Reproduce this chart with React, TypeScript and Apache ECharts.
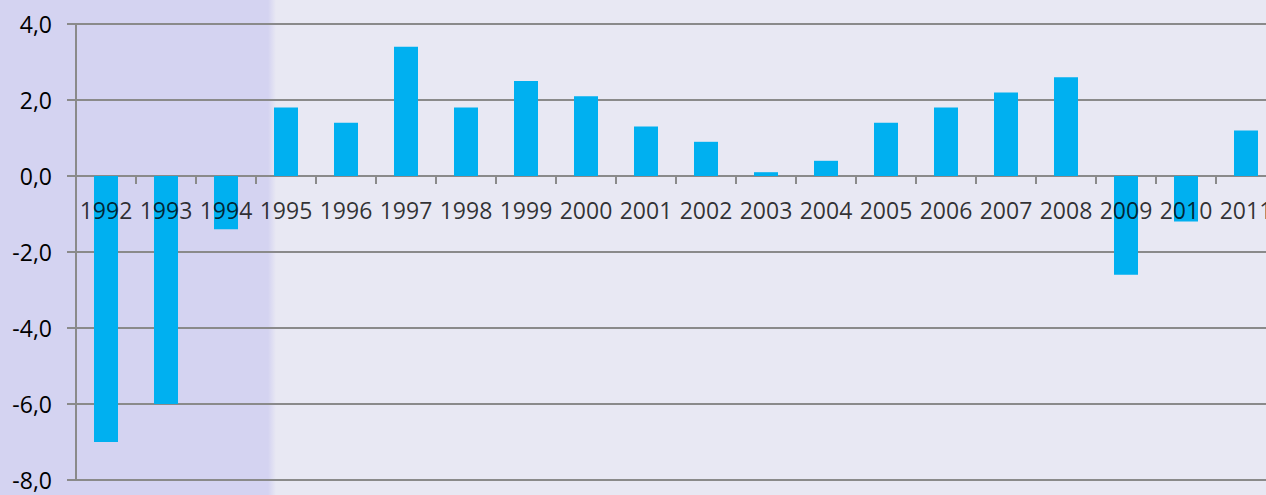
import React, { useEffect, useRef } from "react";
import * as echarts from "echarts";

const years = ["1992","1993","1994","1995","1996","1997","1998","1999","2000","2001","2002","2003","2004","2005","2006","2007","2008","2009","2010","2011"];
const values = [-7.0,-6.0,-1.4,1.8,1.4,3.4,1.8,2.5,2.1,1.3,0.9,0.1,0.4,1.4,1.8,2.2,2.6,-2.6,-1.2,1.2];
const yTicks = { min: -8, max: 4, interval: 2 };

export default function App() {
  const ref = useRef<HTMLDivElement>(null);
  useEffect(() => {
    document.body.style.margin = "0";
    document.body.style.overflow = "hidden";
    const chart = echarts.init(ref.current!, null, { renderer: "svg" });
    const font = "'Open Sans', 'Noto Sans', sans-serif";
    chart.setOption({
      animation: false,
      backgroundColor: "#e8e8f3",
      graphic: [
        { type: "rect", z: -10, shape: { x: 0, y: 0, width: 268, height: 495 }, style: { fill: "#d4d3f1" } },
        {
          type: "rect", z: -10, shape: { x: 268, y: 0, width: 8, height: 495 },
          style: {
            fill: new echarts.graphic.LinearGradient(0, 0, 1, 0, [
              { offset: 0, color: "#d4d3f1" },
              { offset: 1, color: "#e8e8f3" },
            ]),
          },
        },
      ],
      grid: { left: 76, right: 14, top: 24, bottom: 15, containLabel: false, outerBoundsMode: "none" },
      xAxis: {
        type: "category",
        data: years,
        axisLine: { onZero: true, lineStyle: { color: "#8a8a8a", width: 2 } },
        axisTick: { show: true, length: 8, lineStyle: { color: "#8a8a8a", width: 2 } },
        axisLabel: { show: false },
        splitLine: { show: false },
      },
      yAxis: {
        type: "value",
        min: yTicks.min,
        max: yTicks.max,
        interval: yTicks.interval,
        axisLine: { show: true, lineStyle: { color: "#8a8a8a", width: 2 } },
        axisTick: { show: true, length: 9, lineStyle: { color: "#8a8a8a", width: 2 } },
        splitLine: { show: true, lineStyle: { color: "#8a8a8a", width: 2 } },
        axisLabel: {
          color: "#000", fontSize: 23, fontFamily: font, margin: 24,
          formatter: (v: number) => v.toFixed(1).replace(".", ","),
        },
      },
      series: [
        {
          type: "bar",
          data: values,
          barWidth: 24,
          itemStyle: { color: "#00b0f0" },
        },
        {
          type: "scatter",
          z: 10,
          data: years.map(() => 0),
          symbolSize: 0,
          silent: true,
          itemStyle: { color: "#000" },
          label: {
            show: true,
            position: "bottom",
            distance: 22,
            color: "#000",
            textBorderWidth: 0,
            textBorderColor: "transparent",
            fontSize: 23,
            fontFamily: font,
            formatter: (p: any) => years[p.dataIndex],
          },
        },
      ],
    });
    return () => chart.dispose();
  }, []);
  return (
    <div style={{ position: "fixed", left: 0, top: 0, width: 1266, height: 495, overflow: "hidden" }}>
      <div ref={ref} style={{ width: 1290, height: 495 }} />
    </div>
  );
}
